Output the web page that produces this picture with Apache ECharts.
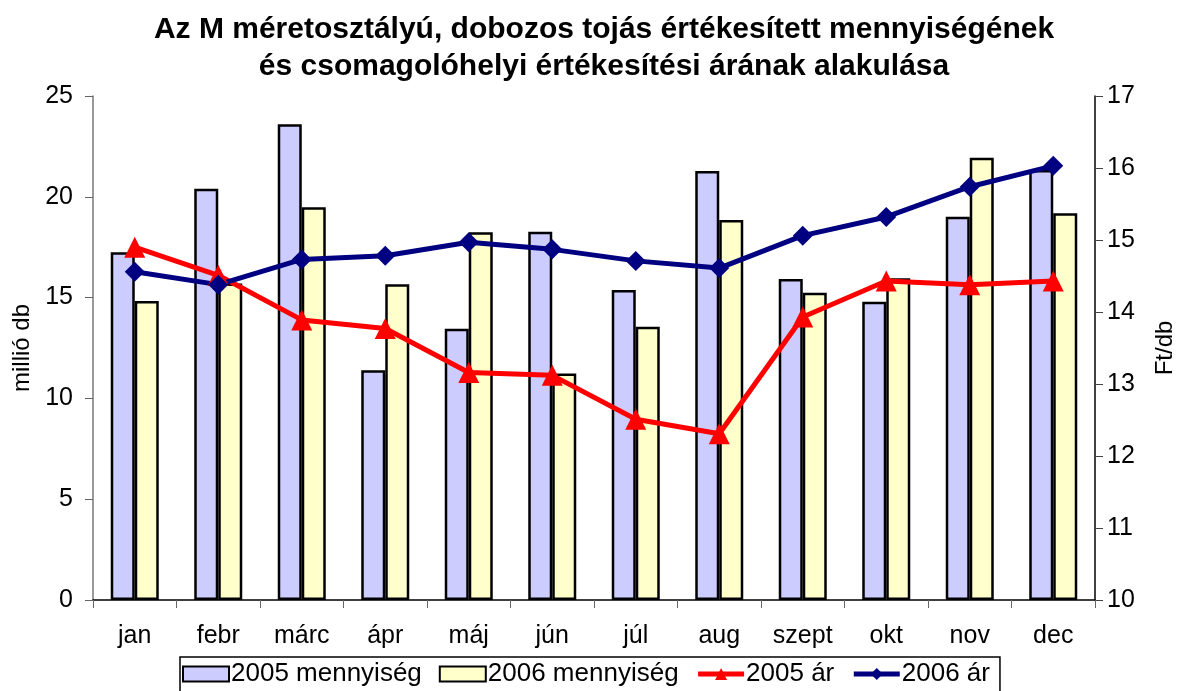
<!DOCTYPE html>
<html>
<head>
<meta charset="utf-8">
<title>M méretosztályú dobozos tojás</title>
<script src="https://cdn.jsdelivr.net/npm/echarts@6/dist/echarts.min.js"></script>
<style>
  html, body { margin: 0; padding: 0; background: #fff; }
  #chart { width: 1181px; height: 691px; }
</style>
</head>
<body>
<div id="chart"></div>
<script>
// adatok
const months = ['jan', 'febr', 'márc', 'ápr', 'máj', 'jún', 'júl', 'aug', 'szept', 'okt', 'nov', 'dec']
const qty2005 = [17.25, 20.4, 23.6, 11.4, 13.45, 18.27, 15.38, 21.28, 15.92, 14.8, 19.01, 21.33]
const qty2006 = [14.83, 15.7, 19.48, 15.66, 18.24, 11.23, 13.56, 18.85, 15.24, 15.96, 21.94, 19.18]
const price2005 = [14.9, 14.51, 13.89, 13.77, 13.16, 13.12, 12.51, 12.31, 13.93, 14.43, 14.38, 14.43]
const price2006 = [14.56, 14.38, 14.73, 14.78, 14.97, 14.87, 14.71, 14.61, 15.06, 15.32, 15.74, 16.03]
const leftTicks = [0, 5, 10, 15, 20, 25]
const rightTicks = [10, 11, 12, 13, 14, 15, 16, 17]

const FONT = '"Liberation Sans", Arial, sans-serif'

const chart = echarts.init(document.getElementById('chart'))

function setBar(name, data, color) { // oszlop series
  return {
    type: 'bar',
    name: name,
    data: data,
    barWidth: 24,
    barGap: '0%',
    itemStyle: { color: color, borderColor: '#000', borderWidth: 2.5 },
    animation: false
  }
}

function setLine(name, data, color, symbol) { // vonal series
  return {
    type: 'line',
    name: name,
    data: data,
    yAxisIndex: 1,
    symbol: symbol,
    symbolSize: symbol === 'triangle' ? 21 : 20,
    lineStyle: { color: color, width: 5 },
    itemStyle: { color: color },
    z: 5,
    animation: false
  }
}

const option = {
  backgroundColor: '#fff',
  title: {
    text: 'Az M méretosztályú, dobozos tojás értékesített mennyiségének\nés csomagolóhelyi értékesítési árának alakulása',
    left: 599,
    textAlign: 'center',
    top: 6,
    textStyle: { fontFamily: FONT, fontWeight: 'bold', fontSize: 30, lineHeight: 37, color: '#000' }
  },
  legend: {
    bottom: -2,
    left: 180,
    padding: [4, 10, 6, 2],
    borderColor: '#000',
    borderWidth: 1.5,
    itemWidth: 46,
    itemHeight: 15,
    itemGap: 17,
    textStyle: { fontFamily: FONT, fontSize: 26, color: '#000', padding: [0, 0, 0, -3] },
    data: [
      { name: '2005 mennyiség', icon: 'rect' },
      { name: '2006 mennyiség', icon: 'rect' },
      { name: '2005 ár', lineStyle: { width: 5 } },
      { name: '2006 ár', lineStyle: { width: 5 } }
    ]
  },
  grid: { left: 93, right: 86, top: 96, bottom: 91, containLabel: false, outerBoundsMode: 'none' },
  xAxis: {
    type: 'category',
    data: months,
    axisLine: { lineStyle: { color: '#000', width: 1.5 } },
    axisTick: { show: true, length: 8, lineStyle: { color: '#666' } },
    axisLabel: { fontFamily: FONT, fontSize: 25, color: '#000', margin: 24 }
  },
  yAxis: [
    {
      type: 'value',
      min: 0,
      max: 25,
      interval: 5,
      name: 'millió db',
      nameLocation: 'middle',
      nameGap: 58,
      nameRotate: 90,
      nameTextStyle: { fontFamily: FONT, fontSize: 24, color: '#000' },
      axisLine: { show: true, lineStyle: { color: '#777', width: 1.5 } },
      axisTick: { show: true, length: 8, lineStyle: { color: '#666' } },
      axisLabel: { fontFamily: FONT, fontSize: 25, color: '#000', margin: 20 },
      splitLine: { show: false }
    },
    {
      type: 'value',
      min: 10,
      max: 17,
      interval: 1,
      name: 'Ft/db',
      nameLocation: 'middle',
      nameGap: 58,
      nameRotate: 90,
      nameTextStyle: { fontFamily: FONT, fontSize: 24, color: '#000' },
      axisLine: { show: true, lineStyle: { color: '#000', width: 1.5 } },
      axisTick: { show: true, length: 8, lineStyle: { color: '#444' } },
      axisLabel: { fontFamily: FONT, fontSize: 25, color: '#000', margin: 12 },
      splitLine: { show: false }
    }
  ],
  series: [
    setBar('2005 mennyiség', qty2005, '#CCCCFF'),
    setBar('2006 mennyiség', qty2006, '#FFFFCC'),
    setLine('2005 ár', price2005, '#FF0000', 'triangle'),
    setLine('2006 ár', price2006, '#000080', 'diamond')
  ]
}

chart.setOption(option)
</script>
</body>
</html>
